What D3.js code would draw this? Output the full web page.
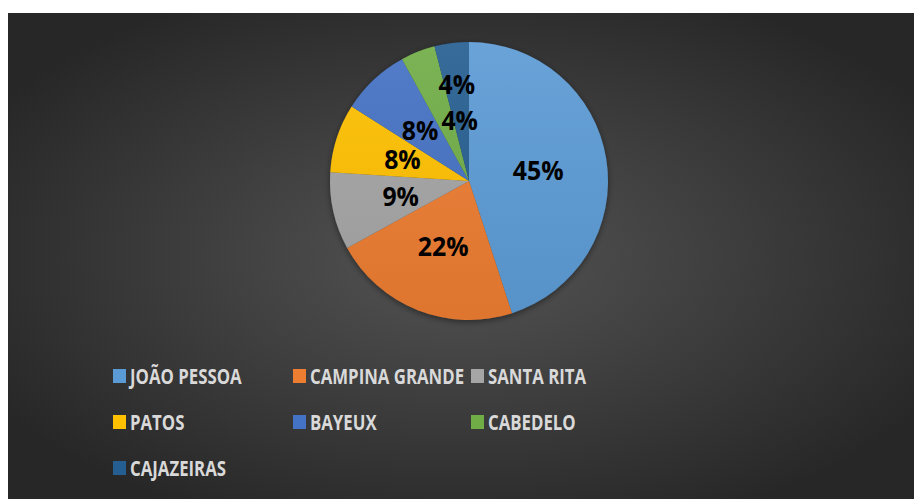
<!DOCTYPE html>
<html>
<head>
<meta charset="utf-8">
<script src="https://cdn.jsdelivr.net/npm/d3@7"></script>
<style>
  body { margin: 0; background: #fff; }
  svg { display: block; }
</style>
</head>
<body>
<div id="chart"></div>
<script>
// data
const cities = ["JOÃO PESSOA", "CAMPINA GRANDE", "SANTA RITA", "PATOS", "BAYEUX", "CABEDELO", "CAJAZEIRAS"];
const shares = [45, 22, 9, 8, 8, 4, 4];
const colors = ["#5B9BD5", "#ED7D31", "#A5A5A5", "#FFC000", "#4472C4", "#70AD47", "#255E91"];

// label layout (Excel moved the two small ones apart)
const labelRadius = [70, 70, 70, 70, 70, 66, 97];
const labelNudge = [[0, 0], [0, 0], [0, 0], [0, 0], [-1, 0], [15, 1], [0, 0]];

const width = 915;
const height = 499;

const svg = d3.select("#chart")
    .append("svg")
    .attr("width", width)
    .attr("height", height);

const defs = svg.append("defs");

const bg = defs.append("radialGradient")
    .attr("id", "bg")
    .attr("cx", "50%").attr("cy", "50%").attr("r", "60%");
bg.append("stop").attr("offset", "0%").attr("stop-color", "#545454");
bg.append("stop").attr("offset", "100%").attr("stop-color", "#272727");

const shine = defs.append("linearGradient")
    .attr("id", "shine")
    .attr("x1", 0).attr("y1", 0).attr("x2", 0).attr("y2", 1);
shine.append("stop").attr("offset", "0%").attr("stop-color", "#fff").attr("stop-opacity", 0.08);
shine.append("stop").attr("offset", "100%").attr("stop-color", "#000").attr("stop-opacity", 0.06);

const shadow = defs.append("filter")
    .attr("id", "shadow")
    .attr("x", "-20%").attr("y", "-20%").attr("width", "140%").attr("height", "140%");
shadow.append("feDropShadow")
    .attr("dx", 0).attr("dy", 2)
    .attr("stdDeviation", 3)
    .attr("flood-color", "#000")
    .attr("flood-opacity", 0.45);

// chart area
svg.append("rect")
    .attr("x", 8)
    .attr("y", 13)
    .attr("width", 906)
    .attr("height", height - 13)
    .attr("fill", "url(#bg)");

// pie
const cx = 469;
const cy = 181;
const radius = 139;

const pie = d3.pie().sort(null).value(d => d);
const arcs = pie(shares);
const arc = d3.arc().innerRadius(0).outerRadius(radius);
const color = d3.scaleOrdinal().domain(cities).range(colors);

const groupPie = svg.append("g")
    .attr("transform", `translate(${cx}, ${cy})`);

const slices = groupPie.append("g").attr("filter", "url(#shadow)");
slices.selectAll("path")
    .data(arcs)
    .enter()
    .append("path")
    .attr("d", arc)
    .attr("fill", (d, i) => color(cities[i]));

groupPie.append("circle")
    .attr("r", radius)
    .attr("fill", "url(#shine)");

groupPie.selectAll(".label")
    .data(arcs)
    .enter()
    .append("text")
    .attr("class", "label")
    .attr("transform", (d, i) => {
        const c = d3.arc().innerRadius(labelRadius[i]).outerRadius(labelRadius[i]).centroid(d);
        return `translate(${c[0] + labelNudge[i][0]}, ${c[1] + labelNudge[i][1]}) scale(0.92, 1)`;
    })
    .attr("text-anchor", "middle")
    .attr("dy", "0.36em")
    .attr("font-family", "'Open Sans', sans-serif")
    .attr("font-weight", "bold")
    .attr("font-size", 27)
    .attr("fill", "#000")
    .text(d => `${d.data}%`);

// legend
const legendCols = [113, 293, 471];
const legendRows = [376, 422, 468];

const legend = svg.append("g").attr("class", "legend");
cities.forEach((name, i) => {
    const x = legendCols[i % 3];
    const y = legendRows[Math.floor(i / 3)];
    const item = legend.append("g").attr("transform", `translate(${x}, ${y})`);
    item.append("rect")
        .attr("x", 0)
        .attr("y", -7)
        .attr("width", 13)
        .attr("height", 14)
        .attr("fill", color(name));
    // Calibri is narrower than anything installed, squeeze the text
    item.append("text")
        .attr("transform", "translate(17, 0) scale(0.8, 1)")
        .attr("dy", "0.36em")
        .attr("font-family", "'Open Sans', sans-serif")
        .attr("font-weight", "bold")
        .attr("font-size", 21)
        .attr("fill", "#D9D9D9")
        .text(name);
});
</script>
</body>
</html>
